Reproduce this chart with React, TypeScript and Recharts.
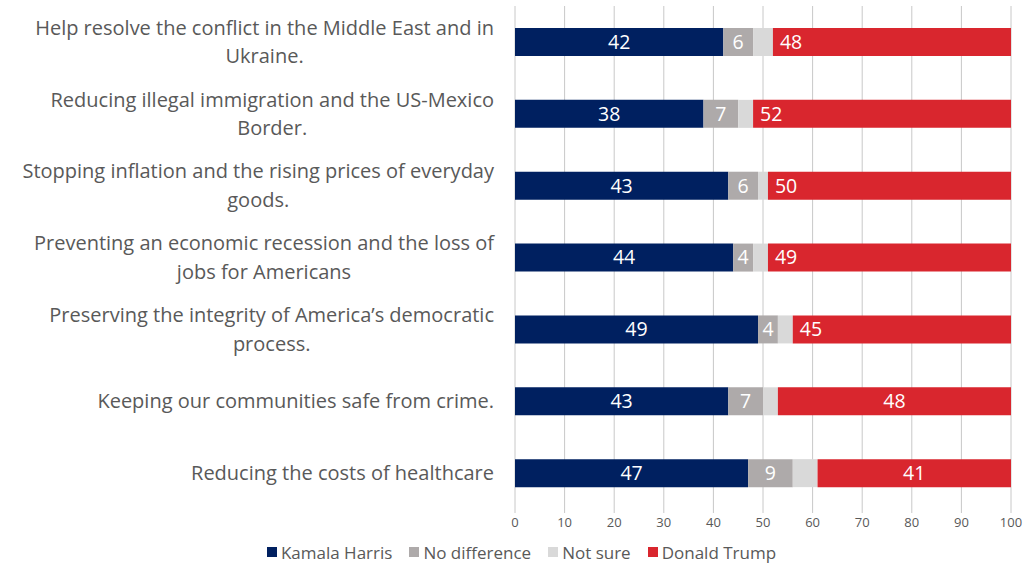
import React from "react";
import { BarChart, Bar, XAxis, YAxis, CartesianGrid, Legend, LabelList } from "recharts";

const categoryLines: string[][] = [
  ["Help resolve the conflict in the Middle East and in", "Ukraine."],
  ["Reducing illegal immigration and the US-Mexico", "Border."],
  ["Stopping inflation and the rising prices of everyday", "goods."],
  ["Preventing an economic recession and the loss of", "jobs for Americans"],
  ["Preserving the integrity of America\u2019s democratic", "process."],
  ["Keeping our communities safe from crime."],
  ["Reducing the costs of healthcare"],
];
const harris = [42, 38, 43, 44, 49, 43, 47];
const noDifference = [6, 7, 6, 4, 4, 7, 9];
const notSure = [4, 3, 2, 3, 3, 3, 5];
const trump = [48, 52, 50, 49, 45, 48, 41];
const xTicks = [0, 10, 20, 30, 40, 50, 60, 70, 80, 90, 100];

const seriesNames = ["Kamala Harris", "No difference", "Not sure", "Donald Trump"];
const seriesColors = ["#002060", "#aeaaaa", "#d9d9d9", "#d9262e"];

const categories = categoryLines.map((l) => l.join(" "));
const data = categories.map((c, i) => ({
  category: c,
  harris: harris[i],
  noDifference: noDifference[i],
  notSure: notSure[i],
  trump: trump[i],
}));

const FONT = "'Open Sans', Lato, sans-serif";
const TEXT = "#595959";
const CAT_SIZE = 20;
const LABEL_SIZE = 19.5;
const trumpInsideStartRows = [0, 1, 2, 3, 4];

let ctx: CanvasRenderingContext2D | null = null;
function measure(s: string): number {
  if (!ctx) {
    const c = document.createElement("canvas");
    ctx = c.getContext("2d");
  }
  if (!ctx) return s.length * 9.7;
  ctx.font = `${CAT_SIZE}px 'Open Sans'`;
  return ctx.measureText(s).width;
}

const CategoryTick = (props: any) => {
  const { y, payload } = props;
  const idx = categories.indexOf(payload.value);
  const lines = idx >= 0 ? categoryLines[idx] : [String(payload.value)];
  const w = Math.max(...lines.map(measure));
  const right = 494;
  const cx = right - w / 2;
  const lh = 28.5;
  const start = y - ((lines.length - 1) * lh) / 2;
  return (
    <g>
      {lines.map((ln, i) => (
        <text
          key={i}
          x={cx}
          y={start + i * lh}
          dy="0.35em"
          textAnchor="middle"
          fill={TEXT}
          fontSize={CAT_SIZE}
          fontFamily={FONT}
        >
          {ln}
        </text>
      ))}
    </g>
  );
};

const CenterLabel = (props: any) => {
  const { x, y, width, height, value } = props;
  return (
    <text
      x={x + width / 2}
      y={y + height / 2}
      dy="0.35em"
      textAnchor="middle"
      fill="#ffffff"
      fontSize={LABEL_SIZE}
      fontFamily={FONT}
    >
      {value}
    </text>
  );
};

const TrumpLabel = (props: any) => {
  const { x, y, width, height, value, index } = props;
  const inside = trumpInsideStartRows.includes(index);
  return (
    <text
      x={inside ? x + 7 : x + width / 2}
      y={y + height / 2}
      dy="0.35em"
      textAnchor={inside ? "start" : "middle"}
      fill="#ffffff"
      fontSize={LABEL_SIZE}
      fontFamily={FONT}
    >
      {value}
    </text>
  );
};

const LegendContent = () => (
  <div
    style={{
      display: "flex",
      justifyContent: "center",
      alignItems: "center",
      height: 30,
      paddingTop: 8,
      boxSizing: "border-box",
      paddingLeft: 32,
      fontFamily: FONT,
      fontSize: 17,
      color: TEXT,
      gap: 17,
    }}
  >
    {seriesNames.map((n, i) => (
      <div key={n} style={{ display: "flex", alignItems: "center" }}>
        <span
          style={{
            display: "inline-block",
            width: 10,
            height: 10,
            background: seriesColors[i],
            marginRight: 4,
          }}
        />
        <span>{n}</span>
      </div>
    ))}
  </div>
);

export default function App() {
  return (
    <div style={{ position: "absolute", left: 0, top: 0, width: 1023, height: 563, background: "#fff" }}>
      <BarChart
        width={1023}
        height={563}
        data={data}
        layout="vertical"
        margin={{ top: 6, right: 12, bottom: 0, left: 0 }}
        barSize={28}
      >
        <CartesianGrid horizontal={false} vertical stroke="#c8c8c8" strokeWidth={1} />
        <XAxis
          type="number"
          domain={[0, 100]}
          allowDataOverflow
          ticks={xTicks}
          axisLine={false}
          tickLine={{ stroke: "#c8c8c8" }}
          tickSize={4}
          tickMargin={5}
          height={24}
          tick={{ fill: TEXT, fontSize: 13, fontFamily: FONT }}
        />
        <YAxis
          type="category"
          dataKey="category"
          width={515}
          axisLine={false}
          tickLine={false}
          tick={<CategoryTick />}
          interval={0}
        />
        <Legend verticalAlign="bottom" height={30} content={<LegendContent />} />
        <Bar dataKey="harris" stackId="a" fill={seriesColors[0]} name={seriesNames[0]} isAnimationActive={false}>
          <LabelList dataKey="harris" content={<CenterLabel />} />
        </Bar>
        <Bar dataKey="noDifference" stackId="a" fill={seriesColors[1]} name={seriesNames[1]} isAnimationActive={false}>
          <LabelList dataKey="noDifference" content={<CenterLabel />} />
        </Bar>
        <Bar dataKey="notSure" stackId="a" fill={seriesColors[2]} name={seriesNames[2]} isAnimationActive={false} />
        <Bar dataKey="trump" stackId="a" fill={seriesColors[3]} name={seriesNames[3]} isAnimationActive={false}>
          <LabelList dataKey="trump" content={<TrumpLabel />} />
        </Bar>
      </BarChart>
    </div>
  );
}
